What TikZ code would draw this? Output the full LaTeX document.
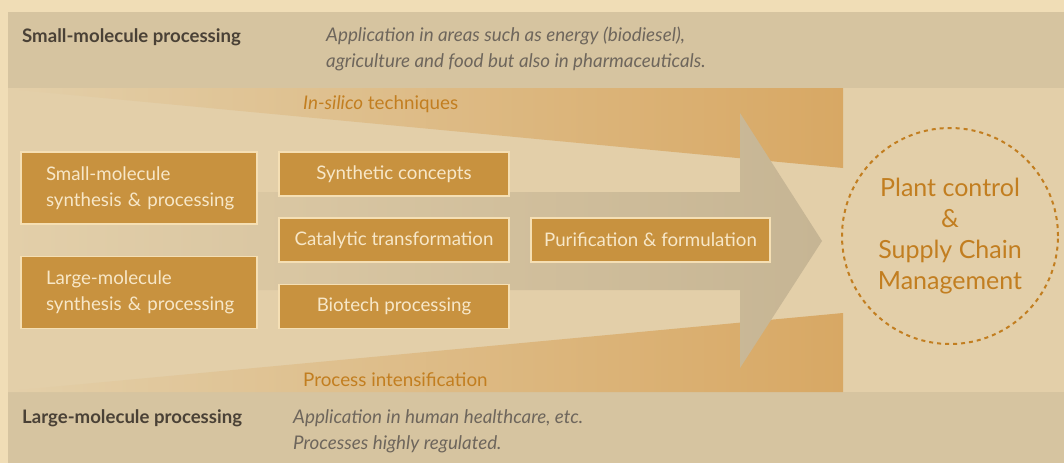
\documentclass[tikz,border=0pt]{standalone}
\usepackage{fontspec}
\setmainfont{Lato}
\definecolor{outerbg}{HTML}{F0DDB6}
\definecolor{band}{HTML}{D6C4A0}
\definecolor{midbg}{HTML}{E3CFA9}
\definecolor{wedgec}{HTML}{D8A864}
\definecolor{arrowc}{HTML}{C6B594}
\definecolor{boxc}{HTML}{C8923F}
\definecolor{boxline}{HTML}{F5DFB4}
\definecolor{boxtext}{HTML}{F7E7C8}
\definecolor{orangec}{HTML}{C27E20}
\definecolor{darkc}{HTML}{4A4136}
\definecolor{greyc}{HTML}{6E665C}
\tikzset{
  procbox/.style={fill=boxc, draw=boxline, line width=1.5pt, text=boxtext,
    font=\fontsize{18.7}{26}\selectfont, inner sep=0pt, minimum height=44pt},
  leftbox/.style={procbox, minimum width=236pt, minimum height=72pt,
    text width=224pt, inner xsep=6pt, align=left,
    execute at begin node={\leftskip=19pt\relax}},
  midbox/.style={procbox, minimum width=230pt},
  bandhead/.style={text=darkc, font=\fontsize{18.6}{20}\selectfont\bfseries, inner sep=0pt},
  banddesc/.style={text=greyc, font=\fontsize{18.8}{20}\selectfont\itshape, inner sep=0pt},
  wedgelabel/.style={text=orangec, font=\fontsize{18.8}{20}\selectfont, inner sep=0pt}
}
\begin{document}
\begin{tikzpicture}[x=1pt,y=-1pt]
\useasboundingbox (0,0) rectangle (1064,463);
\fill[outerbg] (0,0) rectangle (1064,463);
\fill[band] (8,12) rectangle (1064,88);
\fill[midbg] (8,88) rectangle (1064,392);
\fill[band] (8,392) rectangle (1064,463);
% wedges
\shade[left color=midbg, right color=wedgec] (8,88) -- (843,88) -- (843,168) -- (8,89) -- cycle;
\shade[left color=midbg, right color=wedgec] (8,391) -- (843,313) -- (843,392) -- (8,392) -- cycle;
% big arrow
\shade[left color=midbg, right color=arrowc] (8,192) -- (740,192) -- (740,113) -- (822,241) -- (740,368) -- (740,290) -- (8,290) -- cycle;
% band texts
\node[bandhead, anchor=base west] (smh) at (22,42) {Small-molecule processing};
\node[banddesc, anchor=base west] (smd1) at (326,41) {Application in areas such as energy (biodiesel),};
\node[banddesc, anchor=base west] (smd2) at (326,67) {agriculture and food but also in pharmaceuticals.};
\node[bandhead, anchor=base west] (lmh) at (22,423) {Large-molecule processing};
\node[banddesc, anchor=base west] (lmd1) at (293,423) {Application in human healthcare, etc.};
\node[banddesc, anchor=base west] (lmd2) at (293,449) {Processes highly regulated.};
% wedge labels
\node[wedgelabel, anchor=base west] (insilico) at (303,109) {\textit{In-silico} techniques};
\node[wedgelabel, anchor=base west] (procint) at (303,386) {Process intensification};
% boxes
\node[leftbox] (sm) at (139,188) {Small-molecule\\synthesis \& processing};
\node[leftbox] (lm) at (139,292.5) {Large-molecule\\synthesis \& processing};
\node[midbox] (syn) at (394,174) {Synthetic concepts};
\node[midbox] (cat) at (394,240) {Catalytic transformation};
\node[midbox] (bio) at (394,306.5) {Biotech processing};
\node[midbox, minimum width=239pt] (pur) at (650.5,240) {Purification \& formulation};
% circle
\node[circle, draw=orangec, line width=2pt, dash pattern=on 4pt off 4pt, minimum size=216pt] (pc) at (950,236) {};
\node[text=orangec, align=center, font=\fontsize{25}{31}\selectfont, inner sep=0pt] (pct) at (pc.center) {Plant control\\\&\\Supply Chain\\Management};
\end{tikzpicture}
\end{document}
